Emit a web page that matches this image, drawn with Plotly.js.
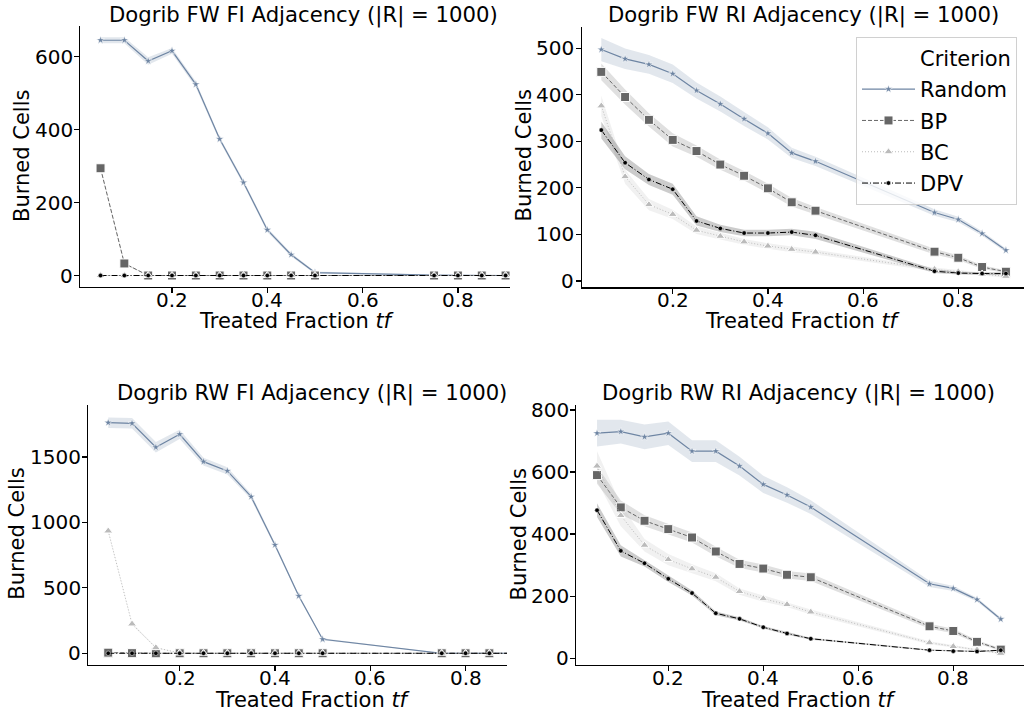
<!DOCTYPE html>
<html>
<head>
<meta charset="utf-8">
<script src="https://cdn.plot.ly/plotly-3.0.1.min.js"></script>
<style>html,body{margin:0;padding:0;background:#fff;}#chart{width:1024px;height:715px;}</style>
</head>
<body>
<div id="chart"></div>
<script>
// ---------------- data ----------------
const treatedFraction = [0.05,0.1,0.15,0.2,0.25,0.3,0.35,0.4,0.45,0.5,0.75,0.8,0.85,0.9];
const criteria = ["Random","BP","BC","DPV"];
const panelTitles = [
  "Dogrib FW FI Adjacency (|R| = 1000)",
  "Dogrib FW RI Adjacency (|R| = 1000)",
  "Dogrib RW FI Adjacency (|R| = 1000)",
  "Dogrib RW RI Adjacency (|R| = 1000)"
];
const xTickVals = [0.2,0.4,0.6,0.8];
const xTickText = ["0.2","0.4","0.6","0.8"];
const yTicksFWFI = [0,200,400,600];
const yTicksFWRI = [0,100,200,300,400,500];
const yTicksRWFI = [0,500,1000,1500];
const yTicksRWRI = [0,200,400,600,800];

// FW FI
const fwfiRandom = [645,645,588,616,524,374,255,125,57,8,1,0,0,0];
const fwfiRandomCI = [8,8,10,8,8,6,6,6,5,3,1,0,0,0];
const fwfiBP = [294,33,0,0,0,0,0,0,0,0,0,0,0,0];
const fwfiBPCI = [3,3,0,0,0,0,0,0,0,0,0,0,0,0];
const fwfiBC = [0,0,0,0,0,0,0,0,0,0,0,0,0,0];
const fwfiBCCI = [0,0,0,0,0,0,0,0,0,0,0,0,0,0];
const fwfiDPV = [0,0,0,0,0,0,0,0,0,0,0,0,0,0];
const fwfiDPVCI = [0,0,0,0,0,0,0,0,0,0,0,0,0,0];

// FW RI
const fwriRandom = [497,477,465,445,409,380,348,317,275,257,147,132,102,66];
const fwriRandomCI = [25,22,20,20,17,16,15,13,11,10,7,6,5,4];
const fwriBP = [449,395,346,303,279,250,226,199,169,151,63,50,30,20];
const fwriBPCI = [18,16,14,14,12,11,10,10,9,8,6,5,4,3];
const fwriBC = [376,224,164,143,109,96,84,75,68,62,25,20,15,10];
const fwriBCCI = [22,15,12,10,8,7,6,6,6,5,4,4,3,3];
const fwriDPV = [324,254,218,197,129,113,103,103,105,98,21,17,16,16];
const fwriDPVCI = [18,14,12,12,10,8,7,7,7,8,4,3,3,3];

// RW FI
const rwfiRandom = [1763,1758,1575,1674,1465,1394,1197,828,438,107,0,0,0,0];
const rwfiRandomCI = [40,40,40,35,30,28,20,15,12,8,0,0,0,0];
const rwfiBP = [5,1,0,0,0,0,0,0,0,0,0,0,0,0];
const rwfiBPCI = [0,0,0,0,0,0,0,0,0,0,0,0,0,0];
const rwfiBC = [935,224,43,2,0,0,0,0,0,0,0,0,0,0];
const rwfiBCCI = [10,8,5,1,0,0,0,0,0,0,0,0,0,0];
const rwfiDPV = [0,0,0,0,0,0,0,0,0,0,0,0,0,0];
const rwfiDPVCI = [0,0,0,0,0,0,0,0,0,0,0,0,0,0];

// RW RI
const rwriRandom = [725,730,713,725,667,667,619,560,526,487,240,225,189,126];
const rwriRandomCI = [43,38,40,38,35,35,30,28,25,22,10,8,6,5];
const rwriBP = [590,486,443,416,389,344,304,289,269,261,103,88,53,28];
const rwriBPCI = [28,22,18,18,16,15,13,13,12,12,8,7,5,4];
const rwriBC = [619,460,364,318,288,261,215,192,173,149,50,38,27,16];
const rwriBCCI = [48,35,20,18,15,13,10,10,8,8,5,4,3,3];
const rwriDPV = [477,346,306,256,210,145,127,100,80,63,26,23,22,26];
const rwriDPVCI = [22,18,10,10,8,6,5,4,4,3,2,2,2,2];

// ---------------- styles ----------------
const W = 1024, H = 715;
const FONT = "DejaVu Sans, Verdana, sans-serif";
const styles = {
  Random: {color:"#6e85a3", band:"rgba(110,133,163,0.2)", dash:"solid", lw:1.2, symbol:"star", size:6, mlw:0.5},
  BP:     {color:"#666666", band:"rgba(102,102,102,0.2)", dash:"4px,2px", lw:1, symbol:"square", size:9, mlw:1},
  BC:     {color:"#bbbbbb", band:"rgba(187,187,187,0.2)", dash:"1px,2px", lw:1, symbol:"triangle-up", size:8, mlw:1},
  DPV:    {color:"#000000", band:"rgba(0,0,0,0.2)", dash:"6px,2px,1px,2px", lw:1, symbol:"circle", size:4.5, mlw:0.5}
};

const panels = [
  {series:{Random:[fwfiRandom,fwfiRandomCI],BP:[fwfiBP,fwfiBPCI],BC:[fwfiBC,fwfiBCCI],DPV:[fwfiDPV,fwfiDPVCI]},
   yticks:yTicksFWFI, xpx:[80,510], ypx:[26,287], xr:[0.0069,0.9093], yr:[-31.5,684]},
  {series:{Random:[fwriRandom,fwriRandomCI],BP:[fwriBP,fwriBPCI],BC:[fwriBC,fwriBCCI],DPV:[fwriDPV,fwriDPVCI]},
   yticks:yTicksFWRI, xpx:[581.7,1024], ypx:[26.7,287.3], xr:[0.0088,0.938], yr:[-13.5,546]},
  {series:{Random:[rwfiRandom,rwfiRandomCI],BP:[rwfiBP,rwfiBPCI],BC:[rwfiBC,rwfiBCCI],DPV:[rwfiDPV,rwfiDPVCI]},
   yticks:yTicksRWFI, xpx:[88.3,507], ypx:[405,665], xr:[0.0082,0.887], yr:[-89.5,1898]},
  {series:{Random:[rwriRandom,rwriRandomCI],BP:[rwriBP,rwriBPCI],BC:[rwriBC,rwriBCCI],DPV:[rwriDPV,rwriDPVCI]},
   yticks:yTicksRWRI, xpx:[576,1024], ypx:[405,665], xr:[0.0057,0.9489], yr:[-21.6,815.8]}
];

const traces = [];
const layout = {
  width: W, height: H,
  margin: {l:0,r:0,t:0,b:0},
  paper_bgcolor:"#fff", plot_bgcolor:"#fff",
  font:{family:FONT, size:20, color:"#000"},
  showlegend:true,
  legend:{
    x:1017/W, y:1-36.7/H, xanchor:"right", yanchor:"top",
    bgcolor:"rgba(255,255,255,0.8)", bordercolor:"#d0d0d0", borderwidth:1,
    font:{family:FONT, size:21, color:"#000"},
    itemwidth:53, tracegroupgap:1, traceorder:"grouped"
  },
  annotations:[], shapes:[]
};

// dummy legend header "Criterion"
traces.push({x:[null], y:[null], type:"scatter", mode:"lines", name:"Criterion",
  line:{color:"rgba(0,0,0,0)", width:0}, legendgroup:"hdr", showlegend:true, xaxis:"x", yaxis:"y", hoverinfo:"skip"});

function ann(text, x, y, size, opts) {
  return Object.assign({text:text, x:x, y:y, xref:"paper", yref:"paper",
    xanchor:"center", yanchor:"middle", showarrow:false, borderpad:0,
    font:{family:FONT, size:size, color:"#000"}}, opts||{});
}

panels.forEach((p, i) => {
  const n = i + 1;
  const xa = n === 1 ? "x" : "x" + n;
  const ya = n === 1 ? "y" : "y" + n;
  const axKey = n === 1 ? "" : String(n);
  layout["xaxis" + axKey] = {
    domain:[p.xpx[0]/W, p.xpx[1]/W], range:p.xr, anchor:ya,
    tickvals:xTickVals, showticklabels:false,
    showline:true, linecolor:"#000", linewidth:1.2, ticks:"outside", ticklen:5, tickwidth:1.2, tickcolor:"#000",
    showgrid:false, zeroline:false
  };
  layout["yaxis" + axKey] = {
    domain:[1-p.ypx[1]/H, 1-p.ypx[0]/H], range:p.yr, anchor:xa,
    tickvals:p.yticks, showticklabels:false,
    showline:true, linecolor:"#000", linewidth:1.2, ticks:"outside", ticklen:5, tickwidth:1.2, tickcolor:"#000",
    showgrid:false, zeroline:false
  };
  // tick labels placed through the axes' own scales
  xTickVals.forEach((v,k)=>layout.annotations.push(ann(xTickText[k], v, 1-(p.ypx[1]+12.5)/H, 20, {xref:xa})));
  p.yticks.forEach(v=>layout.annotations.push(ann(String(v), (p.xpx[0]-6.5)/W, v, 20, {yref:ya, xanchor:"right"})));

  criteria.forEach(c => {
    const st = styles[c];
    const [ys, ci] = p.series[c];
    const lo = ys.map((v,k)=>v-ci[k]);
    const hi = ys.map((v,k)=>v+ci[k]);
    traces.push({
      x: treatedFraction.concat(treatedFraction.slice().reverse()),
      y: hi.concat(lo.slice().reverse()),
      type:"scatter", mode:"lines", fill:"toself", fillcolor:st.band,
      line:{width:0, color:"rgba(0,0,0,0)"}, showlegend:false, hoverinfo:"skip",
      xaxis:xa, yaxis:ya, legendgroup:c
    });
  });
  criteria.forEach(c => {
    const st = styles[c];
    const [ys] = p.series[c];
    traces.push({
      x: treatedFraction, y: ys, type:"scatter", mode:"lines+markers", name:c,
      line:{color:st.color, width:st.lw, dash:st.dash},
      marker:{symbol:st.symbol, size:st.size, color:st.color, line:{color:"#fff", width:st.mlw}},
      showlegend: i === 1, legendgroup:c, xaxis:xa, yaxis:ya
    });
  });
});

// titles and axis labels as annotations (pixel positioned)
const titlePos = [[303,15],[803.5,15],[311.7,393],[798.5,393]];
panelTitles.forEach((t,i)=>layout.annotations.push(ann(t, titlePos[i][0]/W, 1-titlePos[i][1]/H, 21.2)));
const xlabPos = [[296.5,321],[802.5,321],[312.5,700],[799,700]];
xlabPos.forEach(p=>layout.annotations.push(ann("Treated Fraction <i>tf</i>", p[0]/W, 1-p[1]/H, 21)));
const ylabPos = [[22,156],[523.5,156],[16.7,534],[518.5,535]];
ylabPos.forEach(p=>layout.annotations.push(ann("Burned Cells", p[0]/W, 1-p[1]/H, 21, {textangle:-90})));
// clip the bottom-left title where the original figure panel was cropped
layout.annotations.push({text:" ", x:509/W, y:1-378/H, xref:"paper", yref:"paper", xanchor:"left", yanchor:"top",
  showarrow:false, width:22, height:26, bgcolor:"#fff", borderpad:0, font:{size:10}});

Plotly.newPlot("chart", traces, layout, {staticPlot:true});
</script>
</body>
</html>
